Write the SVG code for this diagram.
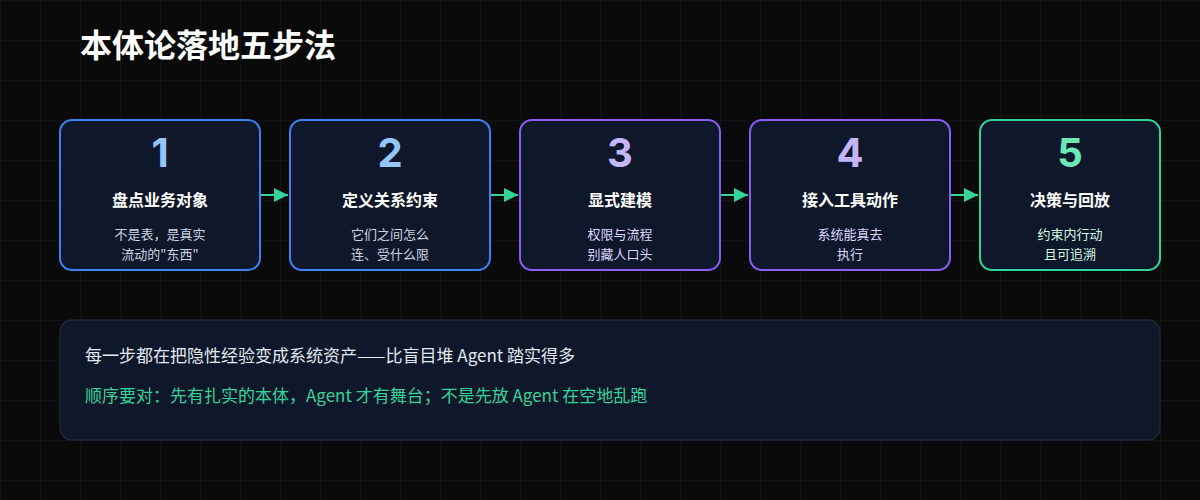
<svg xmlns="http://www.w3.org/2000/svg" width="1200" height="500" viewBox="0 0 1200 500">
<defs>
<pattern id="grid" width="40" height="40" patternUnits="userSpaceOnUse"><path d="M40 0H0V40" fill="none" stroke="#161a1f" stroke-width="1"/></pattern>
<marker id="ah" viewBox="0 0 10 10" refX="10" refY="5" markerWidth="7" markerHeight="7" orient="auto"><path d="M0 0L10 5L0 10z" fill="#34d399"/></marker>
</defs>
<style>
text{font-family:"Noto Sans CJK SC","Inter",sans-serif;text-anchor:middle}
.box{fill:#0f172a;stroke-width:2}
.num{font-size:40px;font-weight:700;font-family:"Inter","Noto Sans",sans-serif}
.ttl{font-size:16px;font-weight:700;fill:#ffffff}
.sub{font-size:13px}
.b{stroke:#3b82f6}.p{stroke:#8b5cf6}.g{stroke:#34d399}
.nb{fill:#93c5fd}.np{fill:#c4b5fd}.ng{fill:#6ee7b7}
.sb{fill:#cbd5e1}.sp{fill:#ddd6fe}.sg{fill:#d1fae5}
</style>
<rect width="1200" height="500" fill="#0a0a0a"/>
<rect width="1200" height="500" fill="url(#grid)"/>
<text x="80" y="57" style="text-anchor:start;font-size:32px;font-weight:700" fill="#ffffff">本体论落地五步法</text>
<g id="connectors" stroke="#34d399" stroke-width="2" marker-end="url(#ah)">
<line x1="261" y1="195" x2="288" y2="195"/>
<line x1="491" y1="195" x2="518" y2="195"/>
<line x1="721" y1="195" x2="748" y2="195"/>
<line x1="951" y1="195" x2="978" y2="195"/>
</g>
<g id="step1"><rect class="box b" x="60" y="120" width="200" height="150" rx="12"/><text class="num nb" x="160" y="167">1</text><text class="ttl" x="160" y="206">盘点业务对象</text><text class="sub sb" x="160" y="239">不是表，是真实</text><text class="sub sb" x="160" y="259">流动的"东西"</text></g>
<g id="step2"><rect class="box b" x="290" y="120" width="200" height="150" rx="12"/><text class="num nb" x="390" y="167">2</text><text class="ttl" x="390" y="206">定义关系约束</text><text class="sub sb" x="390" y="239">它们之间怎么</text><text class="sub sb" x="390" y="259">连、受什么限</text></g>
<g id="step3"><rect class="box p" x="520" y="120" width="200" height="150" rx="12"/><text class="num np" x="620" y="167">3</text><text class="ttl" x="620" y="206">显式建模</text><text class="sub sp" x="620" y="239">权限与流程</text><text class="sub sp" x="620" y="259">别藏人口头</text></g>
<g id="step4"><rect class="box p" x="750" y="120" width="200" height="150" rx="12"/><text class="num np" x="850" y="167">4</text><text class="ttl" x="850" y="206">接入工具动作</text><text class="sub sp" x="850" y="239">系统能真去</text><text class="sub sp" x="850" y="259">执行</text></g>
<g id="step5"><rect class="box g" x="980" y="120" width="180" height="150" rx="12"/><text class="num ng" x="1070" y="167">5</text><text class="ttl" x="1070" y="206">决策与回放</text><text class="sub sg" x="1070" y="239">约束内行动</text><text class="sub sg" x="1070" y="259">且可追溯</text></g>
<g id="note"><rect x="60" y="320" width="1100" height="120" rx="12" fill="#0f172a" stroke="#1e293b" stroke-width="1.5"/>
<text x="85" y="362" style="text-anchor:start;font-size:17px" fill="#e2e8f0">每一步都在把隐性经验变成系统资产——比盲目堆 Agent 踏实得多</text>
<text x="85" y="402" style="text-anchor:start;font-size:17px" fill="#34d399">顺序要对：先有扎实的本体，Agent 才有舞台；不是先放 Agent 在空地乱跑</text></g>
</svg>
